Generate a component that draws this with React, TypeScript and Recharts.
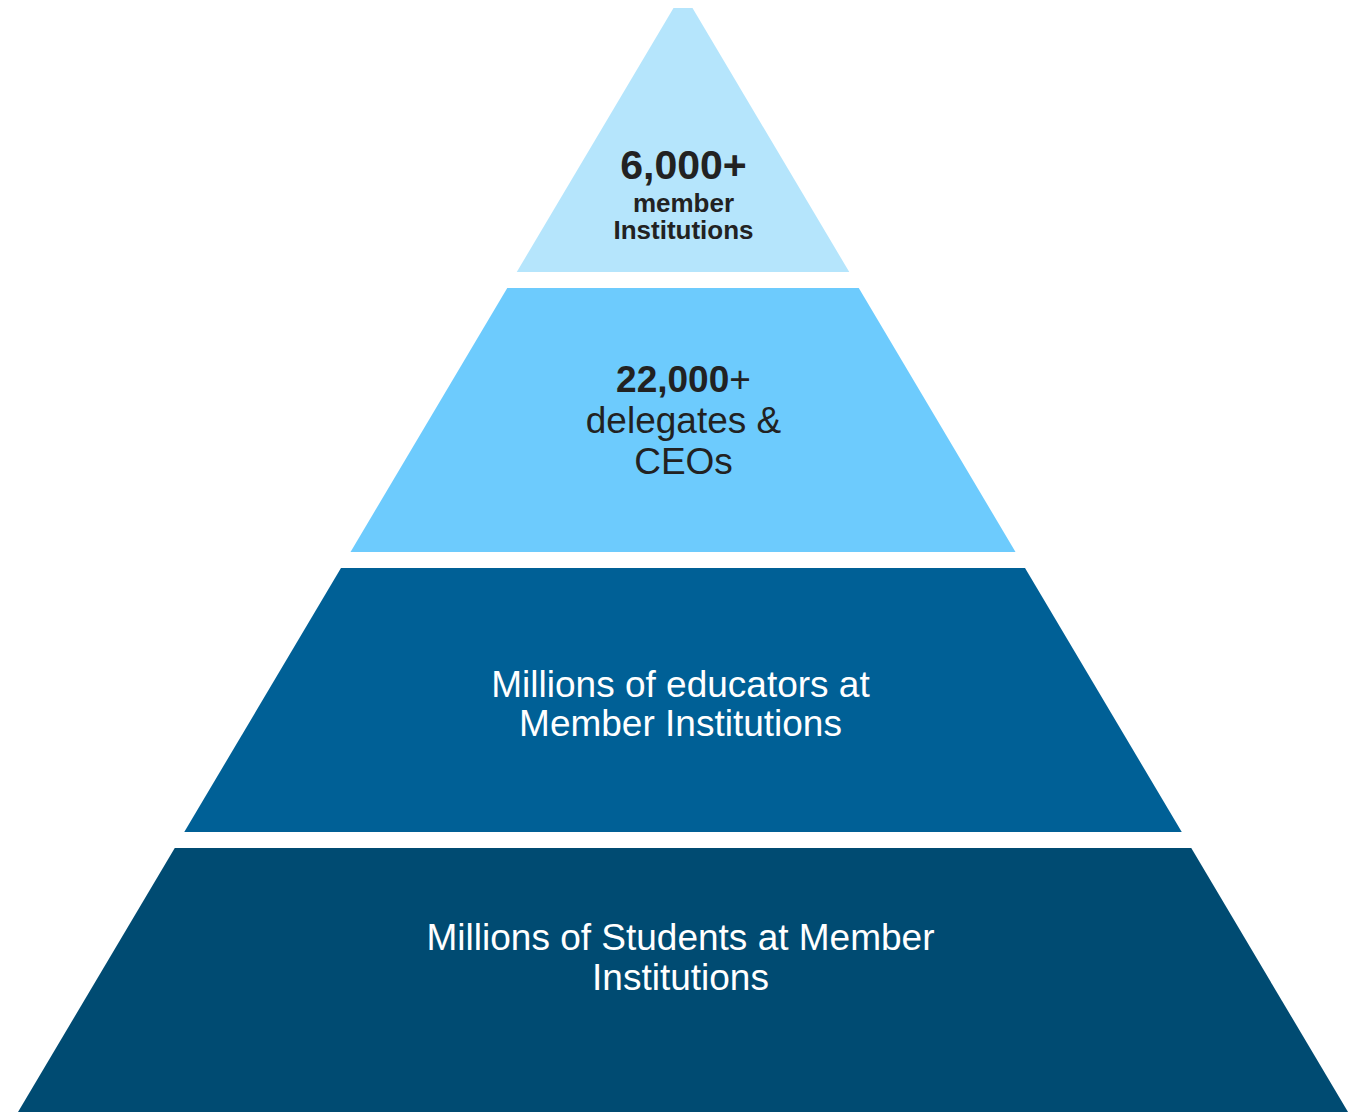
import React from 'react';
import { FunnelChart, Funnel } from 'recharts';

// pyramid tiers, bottom to top (value = relative tier width)
const tierNames = ['students', 'educators', 'delegates', 'members'];
const tierValues = [4, 3, 2, 1];
const tierColors = ['#004b72', '#006096', '#6dcbfd', '#b5e5fc'];
const tierTextColors = ['#ffffff', '#ffffff', '#222222', '#222222'];

// label lines per tier: [text, fontSize, bold]; "|" splits a bold head from a regular tail
const tierLabels: [string, number, boolean][][] = [
  [
    ['Millions of Students at Member', 37, false],
    ['Institutions', 37, false],
  ],
  [
    ['Millions of educators at', 37, false],
    ['Member Institutions', 37, false],
  ],
  [
    ['22,000|+', 37, true],
    ['delegates &', 37, false],
    ['CEOs', 37, false],
  ],
  [
    ['6,000+', 41, true],
    ['member', 26, true],
    ['Institutions', 26, true],
  ],
];
// baseline offsets of each line from tier centre
const labelOffsets = [
  [-30, 10],
  [-3, 36],
  [-28, 13, 54],
  [39, 72, 99],
];
const labelShift = [-2.5, -2.5, 0.5, 0.5];

const data = tierNames.map((name, i) => ({
  name,
  value: tierValues[i],
  fill: tierColors[i],
  idx: i,
}));

const GAP = 16;

const TierShape = (props: any) => {
  const { x, y, upperWidth, lowerWidth, height, fill } = props;
  const idx = props.payload?.idx ?? props.idx;
  const cx = x + upperWidth / 2;
  const topY = y + GAP;
  const wTop = upperWidth + ((lowerWidth - upperWidth) * GAP) / height;
  const bottomY = y + height;
  const d = `M${cx - wTop / 2},${topY} L${cx + wTop / 2},${topY} L${cx + lowerWidth / 2},${bottomY} L${cx - lowerWidth / 2},${bottomY} Z`;
  const midY = (topY + bottomY) / 2;
  const lines = tierLabels[idx] || [];
  const offs = labelOffsets[idx] || [];
  const col = tierTextColors[idx];
  return (
    <g>
      <path d={d} fill={fill} />
      {lines.map(([t, size, bold], j) => {
        const parts = t.split('|');
        return (
          <text
            key={j}
            x={cx + labelShift[idx]}
            y={midY + offs[j]}
            textAnchor="middle"
            fill={col}
            fontSize={size}
            fontFamily="'Liberation Sans', Arial, sans-serif"
            fontWeight={bold ? 700 : 400}
          >
            {parts.length > 1 ? (
              <>
                {parts[0]}
                <tspan fontWeight={400}>{parts[1]}</tspan>
              </>
            ) : (
              t
            )}
          </text>
        );
      })}
    </g>
  );
};

export default function App() {
  return (
    <div
      style={{
        position: 'absolute',
        left: 0,
        top: 0,
        width: 1361,
        height: 1112,
        overflow: 'hidden',
        background: '#ffffff',
      }}
    >
      <div style={{ position: 'absolute', left: 18, top: -8 }}>
        <FunnelChart width={1330} height={1120} margin={{ top: 0, right: 0, bottom: 0, left: 0 }}>
          <Funnel
            dataKey="value"
            nameKey="name"
            data={data}
            reversed
            isAnimationActive={false}
            shape={<TierShape />}
          />
        </FunnelChart>
      </div>
    </div>
  );
}
